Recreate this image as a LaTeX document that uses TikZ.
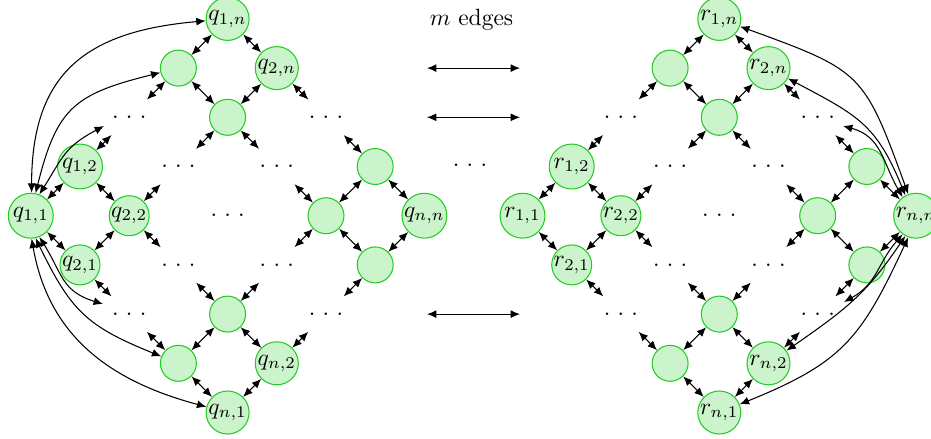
\documentclass[tikz,border=0pt]{standalone}
\usetikzlibrary{calc,arrows.meta}
\definecolor{nodefill}{RGB}{204,244,204}
\definecolor{nodedraw}{RGB}{34,204,34}
\newcommand\gdots{.\kern3.1pt.\kern3.1pt.}
\tikzset{
  gnode/.style={circle,draw=nodedraw,fill=nodefill,line width=0.45pt,inner sep=0pt},
  enode/.style={gnode,minimum size=15.3pt},
  snode/.style={gnode,minimum size=17pt},
  nnode/.style={gnode,minimum size=18.3pt},
  bnode/.style={gnode,minimum size=19.1pt},
  dbl/.style={{Latex[length=4pt,width=3.4pt]}-{Latex[length=4pt,width=3.4pt]},line width=0.45pt},
  dotsnode/.style={inner sep=0pt},
}
\newcommand\stub[2]{\coordinate (#1#2) at ($(#1)!0.64!(#2)$); \draw[dbl] (#1) -- (#1#2);}
\newcommand\mkgrid[2]{%
\begin{scope}[shift={(#2,215.7)},x=20.935pt,y=-20.935pt]
 \node[bnode] (#111) at (0,0) {$#1_{1,1}$};
 \node[bnode] (#112) at (1,-1) {$#1_{1,2}$};
 \node[snode] (#121) at (1,1) {$#1_{2,1}$};
 \node[snode] (#122) at (2,0) {$#1_{2,2}$};
 \node[nnode] (#11n) at (4,-4) {$#1_{1,n}$};
 \node[enode] (#1a) at (3,-3) {};
 \node[nnode] (#12n) at (5,-3) {$#1_{2,n}$};
 \node[enode] (#1b) at (4,-2) {};
 \node[bnode] (#1nn) at (8,0) {$#1_{n,n}$};
 \node[enode] (#1c) at (7,-1) {};
 \node[enode] (#1d) at (6,0) {};
 \node[enode] (#1e) at (7,1) {};
 \node[enode] (#1f) at (4,2) {};
 \node[enode] (#1g) at (3,3) {};
 \node[nnode] (#1n2) at (5,3) {$#1_{n,2}$};
 \node[nnode] (#1n1) at (4,4) {$#1_{n,1}$};
 \node[dotsnode] (#1dA) at (2,-2) {\gdots};
 \node[dotsnode] (#1dB) at (6,-2) {\gdots};
 \node[dotsnode] (#1dC) at (3,-1) {\gdots};
 \node[dotsnode] (#1dD) at (5,-1) {\gdots};
 \node[dotsnode] (#1dE) at (4,0) {\gdots};
 \node[dotsnode] (#1dF) at (3,1) {\gdots};
 \node[dotsnode] (#1dG) at (5,1) {\gdots};
 \node[dotsnode] (#1dH) at (2,2) {\gdots};
 \node[dotsnode] (#1dI) at (6,2) {\gdots};
 \draw[dbl] (#111) -- (#112);
 \draw[dbl] (#111) -- (#121);
 \draw[dbl] (#112) -- (#122);
 \draw[dbl] (#121) -- (#122);
 \draw[dbl] (#11n) -- (#1a);
 \draw[dbl] (#11n) -- (#12n);
 \draw[dbl] (#1a) -- (#1b);
 \draw[dbl] (#12n) -- (#1b);
 \draw[dbl] (#1c) -- (#1nn);
 \draw[dbl] (#1e) -- (#1nn);
 \draw[dbl] (#1d) -- (#1c);
 \draw[dbl] (#1d) -- (#1e);
 \draw[dbl] (#1f) -- (#1g);
 \draw[dbl] (#1f) -- (#1n2);
 \draw[dbl] (#1g) -- (#1n1);
 \draw[dbl] (#1n2) -- (#1n1);
 \stub{#112}{#1dA}
 \stub{#122}{#1dC}
 \stub{#122}{#1dF}
 \stub{#121}{#1dH}
 \stub{#1a}{#1dA}
 \stub{#1b}{#1dC}
 \stub{#1b}{#1dD}
 \stub{#12n}{#1dB}
 \stub{#1c}{#1dB}
 \stub{#1d}{#1dD}
 \stub{#1d}{#1dG}
 \stub{#1e}{#1dI}
 \stub{#1f}{#1dF}
 \stub{#1f}{#1dG}
 \stub{#1g}{#1dH}
 \stub{#1n2}{#1dI}
\end{scope}}
\begin{document}
\begin{tikzpicture}[x=0.4255pt,y=-0.4255pt]
\useasboundingbox (0,0) rectangle (931,438);
\mkgrid{q}{30.8}
\mkgrid{r}{522.5}
% middle
\node (title) at (471.5,20) {$m$ edges};
\node[dotsnode] (middots) at (470,165.5) {\gdots};
\coordinate (mL1) at (427,68.1);  \coordinate (mR1) at (520,68.1);
\coordinate (mL2) at (427,117.3); \coordinate (mR2) at (520,117.3);
\coordinate (mL3) at (427,314.1); \coordinate (mR3) at (520,314.1);
\draw[dbl] (mL1) -- (mR1);
\draw[dbl] (mL2) -- (mR2);
\draw[dbl] (mL3) -- (mR3);
% long curves left
\coordinate (qtA) at (104,126);
\coordinate (qtH) at (103,304);
\draw[dbl] (q11.88) to[out=90,in=185,looseness=1.25] (q1n.185);
\draw[dbl] (q11.78) to[out=76,in=194,looseness=1.3] (qa.194);
\draw[dbl] (q11.68) to[out=58,in=208,looseness=1.2] (qtA);
\draw[dbl] (q11.-88) to[out=-80,in=165,looseness=1.05] (qn1.165);
\draw[dbl] (q11.-78) to[out=-64,in=158,looseness=1.2] (qg.158);
\draw[dbl] (q11.-68) to[out=-58,in=163,looseness=1.2] (qtH);
% long curves right
\coordinate (rtB) at (843,126);
\coordinate (rtI) at (844,302);
\draw[dbl] (rnn.110) to[out=110,in=-20,looseness=1.4] (r1n.-20);
\draw[dbl] (rnn.118) to[out=112,in=-28,looseness=1.2] (r2n.-28);
\draw[dbl] (rnn.126) to[out=120,in=-15,looseness=1.1] (rtB);
\draw[dbl] (rnn.-110) to[out=-115,in=22,looseness=1.2] (rn1.22);
\draw[dbl] (rnn.-118) to[out=-124,in=35,looseness=1.1] (rn2.35);
\draw[dbl] (rnn.-126) to[out=-131,in=29,looseness=1.1] (rtI);
\end{tikzpicture}
\end{document}
